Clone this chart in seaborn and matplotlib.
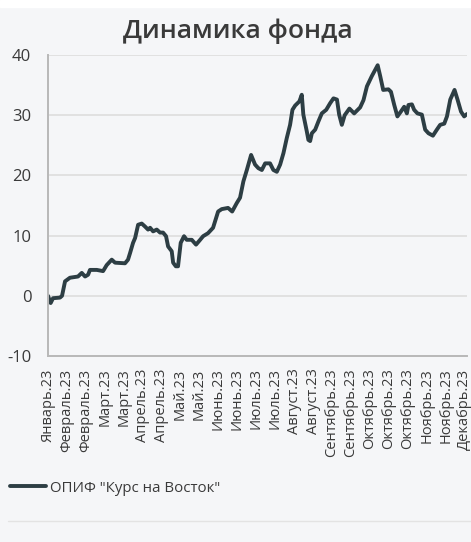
import matplotlib
matplotlib.use("Agg")
import matplotlib.pyplot as plt
import seaborn as sns
import pandas as pd
from matplotlib.lines import Line2D
from matplotlib.patches import Rectangle
from matplotlib.ticker import MultipleLocator

# trading-day index and fund value, %
day = [0, 1.7, 3.2, 7.6, 8.9, 10.8, 13.9, 19.0, 21.4, 23.5, 25.4, 26.6, 30.9,
       34.9, 37.2, 40.4, 42.5, 48.8, 50.7, 52.0, 53.9, 55.2, 57.1, 59.4, 61.5,
       63.4, 64.7, 66.6, 68.9, 71.0, 72.9, 74.8, 76.1, 78.4, 79.3, 81.0, 82.4,
       84.1, 86.2, 87.9, 91.1, 93.8, 96.4, 98.3, 101.4, 104.6, 107.8, 110.1,
       114.1, 116.7, 119.6, 121.7, 123.8, 126.0, 128.7, 131.2, 133.3, 135.5,
       137.6, 140.7, 142.8, 145.0, 147.1, 149.2, 151.3, 153.4, 154.9, 156.6,
       159.3, 160.8, 161.8, 164.0, 165.0, 166.1, 167.2, 169.3, 171.4, 173.5,
       176.3, 178.8, 180.9, 183.1, 184.5, 186.2, 188.0, 191.0, 194.0, 197.8,
       199.9, 202.1, 205.2, 208.9, 210.5, 212.4, 215.7, 217.3, 219.4, 221.4,
       223.6, 225.7, 227.4, 228.4, 230.6, 232.0, 234.1, 236.9, 239.0, 241.1,
       243.9, 246.4, 248.5, 251.1, 252.8, 254.9, 257.6, 259.5, 261.7, 263.7,
       265.5]
value = [0.0, -1.2, -0.4, -0.3, 0.0, 2.4, 3.0, 3.2, 3.8, 3.2, 3.5, 4.3, 4.3,
         4.1, 5.1, 6.0, 5.5, 5.4, 6.0, 7.1, 8.8, 9.6, 11.8, 12.0, 11.5,
         11.0, 11.3, 10.7, 11.0, 10.5, 10.5, 9.9, 8.2, 7.4, 5.5, 4.9, 4.9,
         8.8, 9.9, 9.3, 9.3, 8.5, 9.3, 9.9, 10.4, 11.3, 14.0, 14.4,
         14.6, 14.0, 15.4, 16.3, 19.0, 20.9, 23.4, 21.8, 21.2, 20.9,
         22.0, 22.0, 20.9, 20.6, 21.8, 23.7, 26.2, 28.4, 30.9, 31.6,
         32.3, 33.4, 30.1, 27.3, 25.9, 25.7, 27.0, 27.6, 29.0, 30.3,
         30.9, 32.0, 32.8, 32.6, 30.1, 28.4, 30.0, 31.1, 30.3, 31.3,
         32.5, 34.8, 36.5, 38.3, 36.5, 34.2, 34.3, 33.9, 31.7, 29.8,
         30.6, 31.4, 30.3, 31.7, 31.8, 30.9, 30.3, 30.1, 27.6, 27.0,
         26.6, 27.6, 28.4, 28.6, 29.8, 32.6, 34.2, 32.6, 30.6, 29.8,
         30.2]

tick_labels = ["Январь.23", "Февраль.23", "Февраль.23", "Март.23", "Март.23",
               "Апрель.23", "Апрель.23", "Май.23", "Май.23", "Июнь.23",
               "Июнь.23", "Июль.23", "Июль.23", "Август.23", "Август.23",
               "Сентябрь.23", "Сентябрь.23", "Октябрь.23", "Октябрь.23",
               "Октябрь.23", "Ноябрь.23", "Ноябрь.23", "Декабрь.23"]
series_name = 'ОПИФ "Курс на Восток"'

df = pd.DataFrame({"day": day, "value": value})

BG = "#f5f6f8"
LINE = "#2d3e44"
TEXT = "#3a3a3a"

sns.set_theme(style="white")
plt.rcParams["font.family"] = ["Open Sans", "DejaVu Sans"]
plt.rcParams["axes.unicode_minus"] = False

fig = plt.figure(figsize=(4.71, 5.42), dpi=100, facecolor=BG)
ax = fig.add_axes([0.1019, 0.3432, 0.8896, 0.5553])
ax.set_facecolor(BG)

fig.add_artist(Rectangle((0, 1 - 7 / 542), 1, 7 / 542, transform=fig.transFigure,
                         color="white", zorder=0))

sns.lineplot(data=df, x="day", y="value", ax=ax, color=LINE, linewidth=2.8,
             label=series_name, legend=False)

ax.set_xlim(0, day[-1])
ax.set_ylim(-10, 40)
ax.yaxis.set_major_locator(MultipleLocator(10))
ax.set_xticks([i * 12 for i in range(len(tick_labels))])
ax.set_xticklabels(tick_labels, rotation=90, fontsize=10.5, color=TEXT)
ax.tick_params(axis="y", labelsize=12, labelcolor=TEXT, length=3, width=1.2,
               color="#b8b8b8", pad=9)
ax.tick_params(axis="x", length=0, pad=9)
for lab in ax.get_yticklabels():
    lab.set_color(TEXT)
ax.set_xlabel("")
ax.set_ylabel("")

ax.grid(axis="y", color="#dddddd", linewidth=1.2)
ax.grid(axis="x", visible=False)
for s in ["top", "right"]:
    ax.spines[s].set_visible(False)
for s in ["left", "bottom"]:
    ax.spines[s].set_color("#b8b8b8")
    ax.spines[s].set_linewidth(1.4)

fig.text(0.505, 1 - 31 / 542, "Динамика фонда", ha="center", va="center",
         fontsize=19, fontweight="semibold", color=TEXT)

handle = Line2D([], [], color=LINE, linewidth=2.8)
fig.legend([handle], [series_name], loc="center left",
           bbox_to_anchor=(10 / 471, 1 - 488 / 542), frameon=False,
           fontsize=10.8, borderpad=0, borderaxespad=0, handlelength=2.4,
           handletextpad=0.25, labelcolor=TEXT)

fig.add_artist(Line2D([8 / 471, 1], [1 - 521 / 542] * 2, transform=fig.transFigure,
                      color="#e3e3e3", linewidth=1))

fig.savefig("out.png", dpi=100, facecolor=BG)
